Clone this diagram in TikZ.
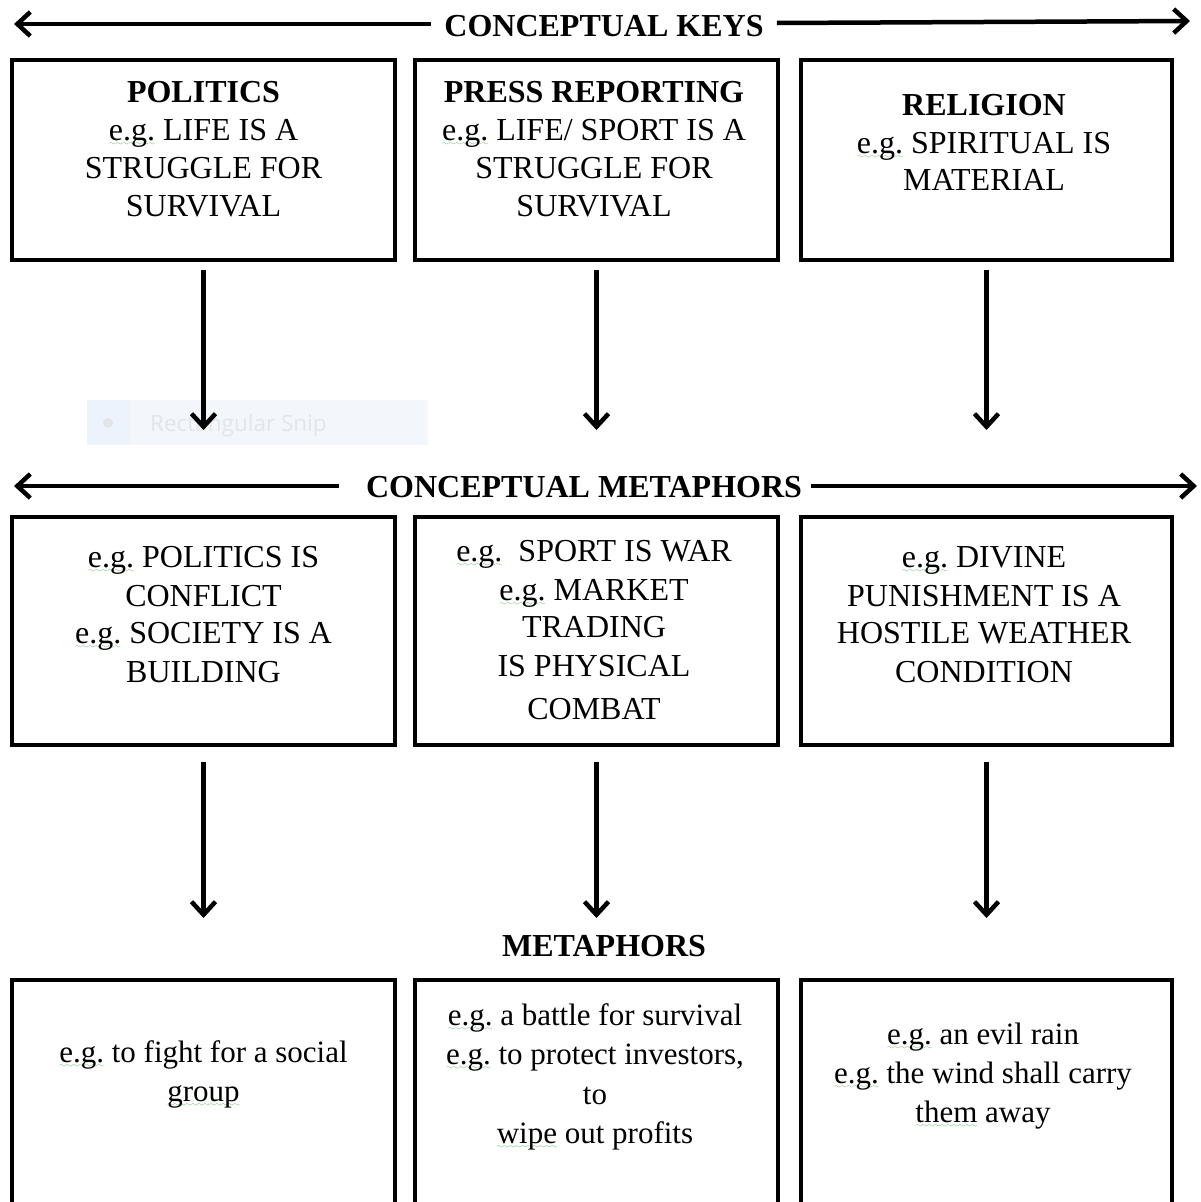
\documentclass[tikz,border=0pt]{standalone}
\usepackage{fontspec}
\setmainfont{Liberation Serif}
\newfontfamily\snipfont{Open Sans}
\usetikzlibrary{arrows.meta}

\definecolor{spell}{RGB}{70,165,70}
\definecolor{snipbg}{RGB}{243,247,252}
\definecolor{snipside}{RGB}{236,243,252}
\definecolor{sniptext}{RGB}{226,229,233}

% green wavy spell-check underline, built from repeated wave glyphs
\font\spellwave=lasy6 at 7pt
\newcommand\sq[1]{\leavevmode\setbox0\hbox{#1}%
  \rlap{\textcolor{spell}{\lower5pt\hbox to\wd0{\xleaders\hbox{\spellwave\char58}\hfill}}}\box0\relax}

\tikzset{
  box/.style={draw, line width=4.5pt, rectangle, inner sep=0pt, outer sep=0pt},
  txt/.style={font=\fontsize{32}{38}\selectfont, anchor=base, inner sep=0pt},
  low/.style={font=\fontsize{31}{38}\selectfont, anchor=base, inner sep=0pt},
  hd/.style={txt, font=\fontsize{32}{38}\selectfont\bfseries},
  arr/.style={line width=4.5pt, -{Straight Barb[length=13pt,width=24pt]}},
}

\begin{document}
\begin{tikzpicture}[x=1pt,y=-1pt]
\useasboundingbox (0,0) rectangle (1200,1202);
\clip (0,0) rectangle (1200,1202);

% ---------- boxes ----------
\node[box, minimum width=383pt, minimum height=200pt] (k1) at (203.5,160) {};
\node[box, minimum width=363pt, minimum height=200pt] (k2) at (596.5,160) {};
\node[box, minimum width=371pt, minimum height=200pt] (k3) at (986.5,160) {};

\node[box, minimum width=383pt, minimum height=228pt] (c1) at (203.5,631) {};
\node[box, minimum width=363pt, minimum height=228pt] (c2) at (596.5,631) {};
\node[box, minimum width=371pt, minimum height=228pt] (c3) at (986.5,631) {};

\node[box, minimum width=383pt, minimum height=260pt] (m1) at (203.5,1110) {};
\node[box, minimum width=363pt, minimum height=260pt] (m2) at (596.5,1110) {};
\node[box, minimum width=371pt, minimum height=260pt] (m3) at (986.5,1110) {};

% ---------- headings with double arrows ----------
\node[hd] (hk) at (604,36) {CONCEPTUAL KEYS};
\coordinate (hkL) at (14,24);
\coordinate (hkR) at (1190,21);
\draw[arr] ([xshift=-13pt,yshift=12pt]hk.base west) -- (hkL);
\draw[arr] ([xshift=13pt,yshift=13pt]hk.base east) -- (hkR);

\node[hd] (hm) at (584,497) {CONCEPTUAL METAPHORS};
\coordinate (hmL) at (14,486);
\coordinate (hmR) at (1197,486);
\draw[arr] ([xshift=-27pt,yshift=11pt]hm.base west) -- (hmL);
\draw[arr] ([xshift=9pt,yshift=11pt]hm.base east) -- (hmR);

\node[hd] (hx) at (604,956) {METAPHORS};

% ---------- screen tooltip overlay ----------
\fill[snipbg] (87,400) rectangle (428,445);
\fill[snipside] (87,400) rectangle (130,445);
\fill[sniptext] (108,423) circle (5);
\node[font=\snipfont\fontsize{22.5}{23}\selectfont, text=sniptext, anchor=base west, inner sep=0pt] (snip) at (150,431) {Rectangular Snip};

% ---------- vertical arrows ----------
\coordinate (a1) at (k1.south |- 0,430);
\coordinate (a2) at (k2.south |- 0,430);
\coordinate (a3) at (k3.south |- 0,430);
\draw[arr] ([yshift=-10pt]k1.south) -- (a1);
\draw[arr] ([yshift=-10pt]k2.south) -- (a2);
\draw[arr] ([yshift=-10pt]k3.south) -- (a3);

\coordinate (b1) at (c1.south |- 0,918);
\coordinate (b2) at (c2.south |- 0,918);
\coordinate (b3) at (c3.south |- 0,918);
\draw[arr] ([yshift=-17pt]c1.south) -- (b1);
\draw[arr] ([yshift=-17pt]c2.south) -- (b2);
\draw[arr] ([yshift=-17pt]c3.south) -- (b3);

% ---------- conceptual keys ----------
\node[hd]  (k1a) at (203.5,102) {POLITICS};
\node[txt] (k1b) at (203.5,140) {\sq{e.g.} LIFE IS A};
\node[txt] (k1c) at (203.5,178) {STRUGGLE FOR};
\node[txt] (k1d) at (203.5,216) {SURVIVAL};

\node[hd]  (k2a) at (594,102) {PRESS REPORTING};
\node[txt] (k2b) at (594,140) {\sq{e.g.} LIFE/ SPORT IS A};
\node[txt] (k2c) at (594,178) {STRUGGLE FOR};
\node[txt] (k2d) at (594,216) {SURVIVAL};

\node[hd]  (k3a) at (984,115) {RELIGION};
\node[txt] (k3b) at (984,153) {\sq{e.g.} SPIRITUAL IS};
\node[txt] (k3c) at (984,190) {MATERIAL};

% ---------- conceptual metaphors ----------
\node[txt] (c1a) at (203.5,567) {\sq{e.g.} POLITICS IS};
\node[txt] (c1b) at (203.5,606) {CONFLICT};
\node[txt] (c1c) at (203.5,643) {\sq{e.g.} SOCIETY IS A};
\node[txt] (c1d) at (203.5,682) {BUILDING};

\node[txt] (c2a) at (594,561) {\sq{e.g.}\ \ SPORT IS WAR};
\node[txt] (c2b) at (594,600) {\sq{e.g.} MARKET};
\node[txt] (c2c) at (594,637) {TRADING};
\node[txt] (c2d) at (594,676) {IS PHYSICAL};
\node[txt] (c2e) at (594,719) {COMBAT};

\node[txt] (c3a) at (984,567) {\sq{e.g.}\ DIVINE};
\node[txt] (c3b) at (984,606) {PUNISHMENT IS A};
\node[txt] (c3c) at (984,643) {HOSTILE WEATHER};
\node[txt] (c3d) at (984,682) {CONDITION};

% ---------- metaphors ----------
\node[low] (m1a) at (203.5,1062) {\sq{e.g.} to fight for a social};
\node[low] (m1b) at (203.5,1101) {\sq{group}};

\node[low] (m2a) at (595,1025) {\sq{e.g.} a battle for survival};
\node[low] (m2b) at (595,1064) {\sq{e.g.} to protect investors,};
\node[low] (m2c) at (595,1104) {to};
\node[low] (m2d) at (595,1143) {\sq{wipe} out profits};

\node[low] (m3a) at (983,1044) {\sq{e.g.} an evil rain};
\node[low] (m3b) at (983,1083) {\sq{e.g.} the wind shall carry};
\node[low] (m3c) at (983,1122) {\sq{them} away};
\end{tikzpicture}
\end{document}
